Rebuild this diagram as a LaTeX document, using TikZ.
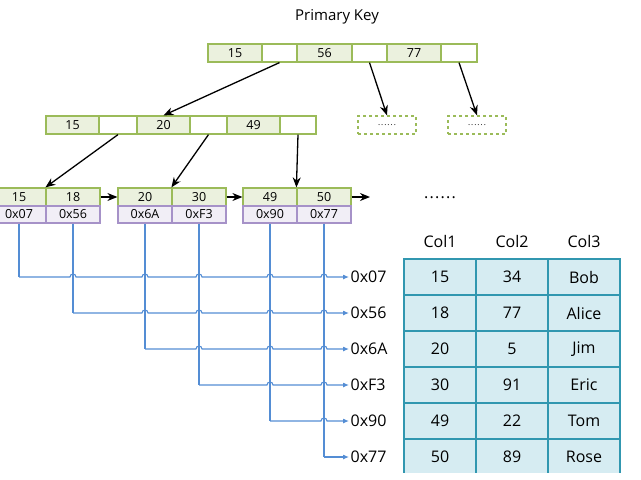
\documentclass[tikz,border=0pt]{standalone}
\usepackage{fontspec}
\setmainfont{Open Sans}
\usetikzlibrary{arrows.meta,calc}
\definecolor{gborder}{RGB}{155,187,89}
\definecolor{gfill}{RGB}{235,241,222}
\definecolor{pborder}{RGB}{166,146,200}
\definecolor{pfill}{RGB}{241,238,246}
\definecolor{bline}{RGB}{84,141,212}
\definecolor{tborder}{RGB}{49,151,176}
\definecolor{tfill}{RGB}{214,236,242}
\begin{document}
\begin{tikzpicture}[x=1pt,y=-1pt,
  cellbase/.style={inner sep=0pt, minimum height=18pt, font=\fontsize{12.5}{12.5}\selectfont, line width=1.2pt},
  gcell/.style={cellbase, draw=gborder, fill=gfill},
  wcell/.style={cellbase, draw=gborder, fill=white},
  pcell/.style={cellbase, draw=pborder, fill=pfill, minimum height=17pt, minimum width=54pt},
  dbox/.style={draw=gborder, dashed, line width=1.2pt, minimum width=58pt, minimum height=18pt, inner sep=0pt, font=\fontsize{8}{8}\selectfont},
  ptr/.style={-{Stealth[length=10pt,width=8pt]}, line width=1.3pt},
  bl/.style={draw=bline, line width=1.1pt},
  blarrow/.style={bl, -{Latex[length=6pt,width=5pt]}},
  addr/.style={anchor=west, inner sep=1.5pt, font=\fontsize{16}{16}\selectfont},
  tcell/.style={draw=tborder, fill=tfill, line width=1.4pt, minimum width=72pt, minimum height=36pt, inner sep=0pt, font=\fontsize{16}{16}\selectfont},
  thead/.style={font=\fontsize{16}{16}\selectfont, inner sep=0pt}
]
\useasboundingbox (0,0) rectangle (641,480);
\clip (0,0) rectangle (641,480);

% title
\node[font=\fontsize{15}{15}\selectfont] (title) at (337,17) {Primary Key};

% root
\node[gcell, minimum width=54pt] (r1) at (235,53) {15};
\node[wcell, minimum width=35pt] (r1b) at (279.5,53) {};
\node[gcell, minimum width=54pt] (r2) at (324.5,53) {56};
\node[wcell, minimum width=35pt] (r2b) at (369.5,53) {};
\node[gcell, minimum width=54pt] (r3) at (414,53) {77};
\node[wcell, minimum width=36pt] (r3b) at (459,53) {};

% level 2
\node[gcell, minimum width=53pt] (m1) at (72.5,125) {15};
\node[wcell, minimum width=38pt] (m1b) at (118,125) {};
\node[gcell, minimum width=53pt] (m2) at (163.5,125) {20};
\node[wcell, minimum width=37pt] (m2b) at (208.5,125) {};
\node[gcell, minimum width=53pt] (m3) at (253.5,125) {49};
\node[wcell, minimum width=36pt] (m3b) at (298,125) {};
\node[dbox] (d1) at (387,125) {.\kern1pt.\kern1pt.\kern1pt.\kern1pt.\kern1pt.};
\node[dbox] (d2) at (477,125) {.\kern1pt.\kern1pt.\kern1pt.\kern1pt.\kern1pt.};

% leaves
\node[gcell, minimum width=54pt] (k1) at (19,197) {15};
\node[gcell, minimum width=54pt] (k2) at (73,197) {18};
\node[gcell, minimum width=54pt] (k3) at (145,197) {20};
\node[gcell, minimum width=54pt] (k4) at (199,197) {30};
\node[gcell, minimum width=54pt] (k5) at (270,197) {49};
\node[gcell, minimum width=54pt] (k6) at (324,197) {50};
\node[pcell] (a1) at (19,214.5) {0x07};
\node[pcell] (a2) at (73,214.5) {0x56};
\node[pcell] (a3) at (145,214.5) {0x6A};
\node[pcell] (a4) at (199,214.5) {0xF3};
\node[pcell] (a5) at (270,214.5) {0x90};
\node[pcell] (a6) at (324,214.5) {0x77};
\coordinate (lend) at (370,197);

% tree pointers
\draw[ptr] (r1b.south) -- (m2.north);
\draw[ptr] (r2b.south) -- (d1.north);
\draw[ptr] (r3b.south) -- (d2.north);
\draw[ptr] (m1b.south) -- (k2.north west);
\draw[ptr] (m2b.south) -- (k4.north west);
\draw[ptr] (m3b.south) -- (k6.north west);
\draw[ptr] (k2.east) -- (k3.west);
\draw[ptr] (k4.east) -- (k5.west);
\draw[ptr] (k6.east) -- (lend);

% address labels
\node[addr] (p1) at (349,277) {0x07};
\node[addr] (p2) at (349,313) {0x56};
\node[addr] (p3) at (349,349) {0x6A};
\node[addr] (p4) at (349,385) {0xF3};
\node[addr] (p5) at (349,421) {0x90};
\node[addr] (p6) at (349,457) {0x77};

% blue links
\foreach \i in {1,...,6}{
  \draw[bl] (a\i.south) -- (a\i.south |- p\i.west) coordinate (s\i);
}
\foreach \i in {1,...,5}{
  \pgfmathtruncatemacro\nx{\i+1}
  \draw[blarrow] (s\i) \foreach \j in {\nx,...,6}{ -- ($(a\j.south |- s\i)+(-3,0)$) arc[start angle=180,end angle=360,radius=3] } -- (p\i.west);
}
\draw[blarrow] (s6) -- (p6.west);

% dots
\node[font=\fontsize{16}{16}\selectfont] (dots) at (440,198) {.\kern1.2pt.\kern1.2pt.\kern1.2pt.\kern1.2pt.\kern1.2pt.};

% table
\node[thead] (h1) at (440,241) {Col1};
\node[thead] (h2) at (512,241) {Col2};
\node[thead] (h3) at (584,241) {Col3};
\foreach \r/\a/\b/\c [count=\n] in {277/15/34/Bob, 313/18/77/Alice, 349/20/5/Jim, 385/30/91/Eric, 421/49/22/Tom, 457/50/89/Rose}{
  \node[tcell] (c\n a) at (440,\r) {\a};
  \node[tcell] (c\n b) at (512,\r) {\b};
  \node[tcell] (c\n c) at (584,\r) {\c};
}
\fill[white] (398,473) rectangle (630,481);
\end{tikzpicture}
\end{document}
